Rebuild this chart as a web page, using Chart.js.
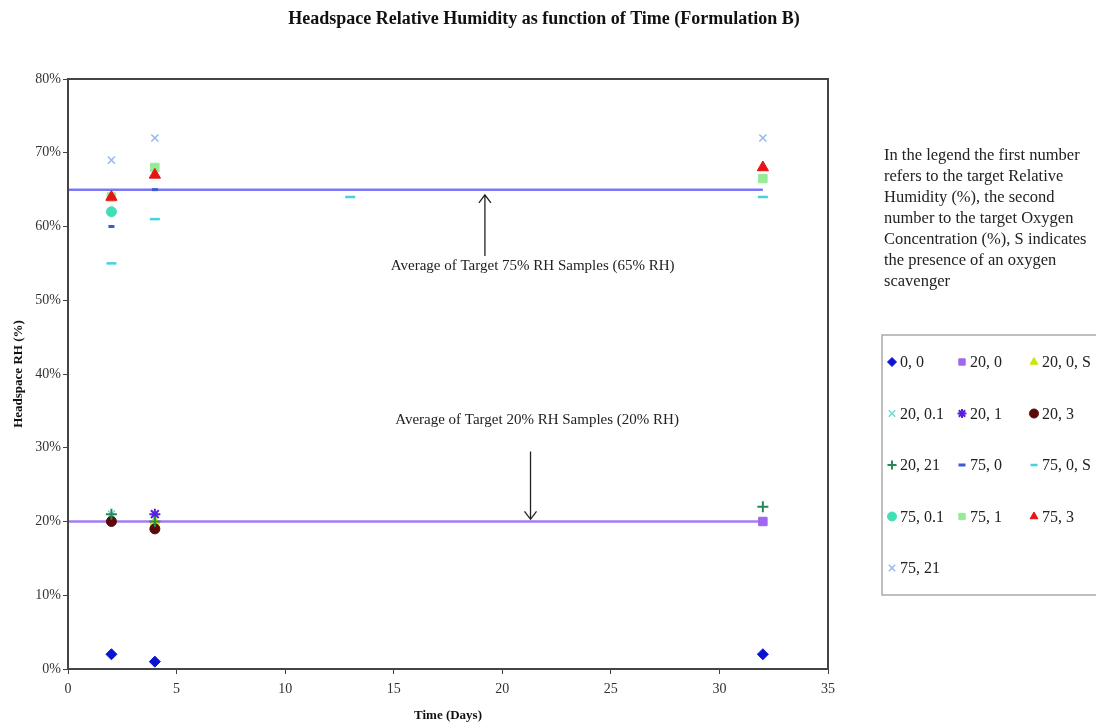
<!DOCTYPE html>
<html>
<head>
<meta charset="utf-8">
<script src="https://cdn.jsdelivr.net/npm/chart.js@4.4.0/dist/chart.umd.min.js"></script>
<style>
  html, body { margin: 0; padding: 0; background: #fff; }
</style>
</head>
<body>
<canvas id="rh-chart" width="1096" height="723"></canvas>
<script>
// ====== DATA (days, headspace RH %) ======
const days_0_0 = [2, 4, 32];        const rh_0_0 = [2, 1, 2];
const days_20_0 = [32];             const rh_20_0 = [20];
const days_20_0_S = [4];            const rh_20_0_S = [20];
const days_20_01 = [2];             const rh_20_01 = [21];
const days_20_1 = [4];              const rh_20_1 = [21];
const days_20_3 = [2, 4];           const rh_20_3 = [20, 19];
const days_20_21 = [2, 4, 32];      const rh_20_21 = [21, 20, 22];
const days_75_0 = [2, 4];           const rh_75_0 = [60, 65];
const days_75_0_S = [2, 4, 13, 32]; const rh_75_0_S = [55, 61, 64, 64];
const days_75_01 = [2];             const rh_75_01 = [62];
const days_75_1 = [2, 4, 32];       const rh_75_1 = [64, 68, 66.5];
const days_75_3 = [2, 4, 32];       const rh_75_3 = [64, 67, 68];
const days_75_21 = [2, 4, 32];      const rh_75_21 = [69, 72, 72];

// average reference lines
const avgDays = [0, 32];
const avg75 = [65, 65];
const avg20 = [20, 20];

const xTicks = [0, 5, 10, 15, 20, 25, 30, 35];
const yTicks = [0, 10, 20, 30, 40, 50, 60, 70, 80];

const infoLines = [
  "In the legend the first number",
  "refers to the target Relative",
  "Humidity (%), the second",
  "number to the target Oxygen",
  "Concentration (%), S indicates",
  "the presence of an oxygen",
  "scavenger"
];

// annotations in data units
const notes = [
  { text: "Average of Target 75% RH Samples (65% RH)", tx: 21.4, ty: 54.6, ax: 19.2, from: 56.0, to: 64.3 },
  { text: "Average of Target 20% RH Samples (20% RH)", tx: 21.6, ty: 33.8, ax: 21.3, from: 29.5, to: 20.3 }
];

const pts = (xs, ys) => xs.map((x, i) => ({ x, y: ys[i] }));

const series = [
  { label: "0, 0",      data: pts(days_0_0, rh_0_0),       color: "#0a14d2", style: "rectRot",  r: 5.5, bw: 1 },
  { label: "20, 0",     data: pts(days_20_0, rh_20_0),     color: "#a066f0", style: "rect",     r: 6,   bw: 1 },
  { label: "20, 0, S",  data: pts(days_20_0_S, rh_20_0_S), color: "#cce600", style: "triangle", r: 5.5, bw: 1 },
  { label: "20, 0.1",   data: pts(days_20_01, rh_20_01),   color: "#70dcc8", style: "crossRot", r: 5,   bw: 1.5 },
  { label: "20, 1",     data: pts(days_20_1, rh_20_1),     color: "#5a1ee0", style: "star",     r: 5.5, bw: 2 },
  { label: "20, 3",     data: pts(days_20_3, rh_20_3),     color: "#5a0a0a", style: "circle",   r: 5,   bw: 1 },
  { label: "20, 21",    data: pts(days_20_21, rh_20_21),   color: "#28885a", style: "cross",    r: 5.5, bw: 2 },
  { label: "75, 0",     data: pts(days_75_0, rh_75_0),     color: "#3c5ad2", style: "line",     r: 3,   bw: 3 },
  { label: "75, 0, S",  data: pts(days_75_0_S, rh_75_0_S), color: "#46d2dc", style: "line",     r: 5,   bw: 2.5 },
  { label: "75, 0.1",   data: pts(days_75_01, rh_75_01),   color: "#40e0b4", style: "circle",   r: 5,   bw: 1 },
  { label: "75, 1",     data: pts(days_75_1, rh_75_1),     color: "#96eb96", style: "rect",     r: 6,   bw: 1 },
  { label: "75, 3",     data: pts(days_75_3, rh_75_3),     color: "#e61414", style: "triangle", r: 6.5, bw: 1 },
  { label: "75, 21",    data: pts(days_75_21, rh_75_21),   color: "#96b9eb", style: "crossRot", r: 5,   bw: 1.5 }
];

const datasets = series.map((s, i) => ({
  label: s.label,
  data: s.data,
  showLine: false,
  pointStyle: s.style,
  pointRadius: s.r,
  pointBorderWidth: s.bw,
  backgroundColor: s.color,
  borderColor: s.color,
  order: series.length - i
}));

datasets.push(
  { label: "avg75", data: pts(avgDays, avg75), showLine: true, borderColor: "#7c78f5", borderWidth: 2.5, pointRadius: 0, order: 100 },
  { label: "avg20", data: pts(avgDays, avg20), showLine: true, borderColor: "#a37cf0", borderWidth: 2.5, pointRadius: 0, order: 101 }
);

const serif = "'Liberation Serif', 'Times New Roman', serif";

// ====== EXTRAS: title, box, arrows, side text, legend ======
const extras = {
  id: "extras",
  afterDraw(chart) {
    const { ctx, chartArea: a, scales: { x, y } } = chart;
    ctx.save();

    // title
    ctx.fillStyle = "#111";
    ctx.font = "bold 18px " + serif;
    ctx.textAlign = "center";
    ctx.textBaseline = "middle";
    ctx.fillText("Headspace Relative Humidity as function of Time (Formulation B)", 544, 19);

    // plot box
    ctx.strokeStyle = "#444";
    ctx.lineWidth = 2;
    ctx.strokeRect(a.left, a.top, a.right - a.left, a.bottom - a.top);

    // annotations
    ctx.font = "15px " + serif;
    ctx.fillStyle = "#222";
    notes.forEach(n => {
      ctx.fillText(n.text, x.getPixelForValue(n.tx), y.getPixelForValue(n.ty));
      const ax = x.getPixelForValue(n.ax);
      const y0 = y.getPixelForValue(n.from);
      const y1 = y.getPixelForValue(n.to);
      const dir = y1 < y0 ? 1 : -1;
      ctx.strokeStyle = "#222";
      ctx.lineWidth = 1.3;
      ctx.beginPath();
      ctx.moveTo(ax, y0);
      ctx.lineTo(ax, y1);
      ctx.moveTo(ax - 6, y1 + dir * 8);
      ctx.lineTo(ax, y1);
      ctx.lineTo(ax + 6, y1 + dir * 8);
      ctx.stroke();
    });

    // side note
    ctx.textAlign = "left";
    ctx.font = "16.5px " + serif;
    infoLines.forEach((t, i) => ctx.fillText(t, 884, 156 + i * 21));

    // legend box
    ctx.strokeStyle = "#aaa";
    ctx.lineWidth = 1.5;
    ctx.strokeRect(882, 335, 220, 260);
    const colX = [892, 962, 1034];
    series.forEach((s, i) => {
      const cx = colX[i % 3];
      const cy = 362 + Math.floor(i / 3) * 51.5;
      ctx.fillStyle = s.color;
      ctx.strokeStyle = s.color;
      ctx.lineWidth = s.bw;
      Chart.helpers.drawPoint(ctx, { pointStyle: s.style, radius: s.style === "line" ? 3.5 : 4.5, rotation: 0, borderWidth: s.bw }, cx, cy);
      ctx.fillStyle = "#222";
      ctx.font = "16px " + serif;
      ctx.fillText(s.label, cx + 8, cy + 1);
    });

    ctx.restore();
  }
};

const tickFont = { family: serif, size: 14 };

new Chart(document.getElementById("rh-chart").getContext("2d"), {
  type: "scatter",
  data: { datasets },
  options: {
    responsive: false,
    animation: false,
    devicePixelRatio: 1,
    layout: { padding: { top: 79, right: 268, left: 0, bottom: 0 } },
    plugins: { legend: { display: false }, tooltip: { enabled: false } },
    scales: {
      x: {
        type: "linear", min: 0, max: 35,
        afterBuildTicks: s => { s.ticks = xTicks.map(v => ({ value: v })); },
        afterFit: s => { s.height = 54; },
        ticks: { color: "#333", font: tickFont, padding: 7 },
        grid: { drawOnChartArea: false, drawTicks: true, tickLength: 5, color: "#444" },
        border: { color: "#444", width: 2 },
        title: { display: true, text: "Time (Days)", color: "#111", font: { family: serif, size: 13, weight: "bold" }, padding: { top: 4, bottom: 0 } }
      },
      y: {
        type: "linear", min: 0, max: 80,
        afterBuildTicks: s => { s.ticks = yTicks.map(v => ({ value: v })); },
        afterFit: s => { s.width = 68; },
        ticks: { color: "#333", font: tickFont, padding: 2, callback: v => v + "%" },
        grid: { drawOnChartArea: false, drawTicks: true, tickLength: 5, color: "#444" },
        border: { color: "#444", width: 2 },
        title: { display: true, text: "Headspace RH (%)", color: "#111", font: { family: serif, size: 13, weight: "bold" }, padding: { top: 11, bottom: 4 } }
      }
    }
  },
  plugins: [extras]
});
</script>
</body>
</html>
